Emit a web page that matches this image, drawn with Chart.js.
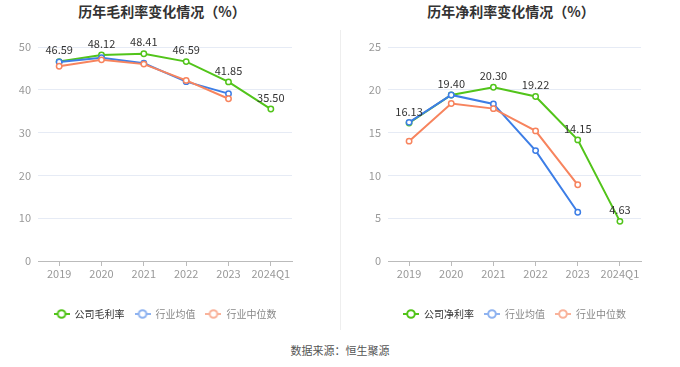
<!DOCTYPE html>
<html>
<head>
<meta charset="utf-8">
<script src="https://cdn.jsdelivr.net/npm/chart.js@4/dist/chart.umd.min.js"></script>
<style>
  body { margin: 0; width: 680px; height: 367px; background: #fff; position: relative; overflow: hidden;
         font-family: 'Noto Sans CJK SC', sans-serif; }
  .title { position: absolute; top: 1px; width: 340px; text-align: center; font-size: 14px; font-weight: bold; color: #333; }
  .box { position: absolute; top: 0; }
  #divider { position: absolute; left: 340px; top: 30px; width: 1px; height: 300px; background: #eee; }
  #source { position: absolute; top: 342px; width: 680px; text-align: center; font-size: 11px; color: #555; }
</style>
</head>
<body>
<div class="title" style="left:-8px">历年毛利率变化情况（%）</div>
<div class="title" style="left:341px">历年净利率变化情况（%）</div>
<div class="box" style="left:0"><canvas id="grossCanvas"></canvas></div>
<div class="box" style="left:360px"><canvas id="netCanvas"></canvas></div>
<div id="divider"></div>
<div id="source">数据来源：恒生聚源</div>
<script>
var years = ['2019', '2020', '2021', '2022', '2023', '2024Q1'];

var grossCompany = [46.59, 48.12, 48.41, 46.59, 41.85, 35.50];
var grossAvg = [46.5, 47.5, 46.2, 41.9, 39.1, null];
var grossMedian = [45.5, 47.0, 46.0, 42.2, 37.9, null];

var netCompany = [16.13, 19.40, 20.30, 19.22, 14.15, 4.63];
var netAvg = [16.2, 19.4, 18.35, 12.9, 5.7, null];
var netMedian = [14.0, 18.4, 17.8, 15.2, 8.9, null];

var green = '#52c41a';
var blue = '#3d7ee6';
var orange = '#f7845e';
var font = "'Noto Sans CJK SC', sans-serif";

// little "-o-" icon for the legend
function legendIcon(color) {
    var c = document.createElement('canvas');
    c.width = 16; c.height = 10;
    var ctx = c.getContext('2d');
    ctx.strokeStyle = color;
    ctx.lineWidth = 2;
    ctx.beginPath(); ctx.moveTo(0, 5); ctx.lineTo(16, 5); ctx.stroke();
    ctx.beginPath(); ctx.arc(8, 5, 3.8, 0, Math.PI * 2);
    ctx.fillStyle = '#fff'; ctx.fill(); ctx.stroke();
    return c;
}

var valueLabels = {
    id: 'valueLabels',
    afterDatasetsDraw: function(chart) {
        var ctx = chart.ctx;
        var meta = chart.getDatasetMeta(0);
        var data = chart.data.datasets[0].data;
        ctx.save();
        ctx.font = '11px ' + font;
        ctx.fillStyle = '#333';
        ctx.textAlign = 'center';
        ctx.textBaseline = 'bottom';
        meta.data.forEach(function(pt, i) {
            if (data[i] == null) return;
            ctx.fillText(data[i].toFixed(2), pt.x, pt.y - 6);
        });
        ctx.restore();
    }
};

// center the legend under the plot area instead of the whole canvas
var legendUnderPlot = {
    id: 'legendUnderPlot',
    afterLayout: function(chart) {
        chart.legend.left = chart.chartArea.left;
        chart.legend.right = chart.chartArea.right;
        chart.legend.width = chart.chartArea.right - chart.chartArea.left;
    }
};

function makeChart(id, name, company, avg, median, yMax, yStep, w, pad) {
    var cv = document.getElementById(id);
    cv.width = w;
    cv.height = 340;
    var iconColors = [green, '#8fb3f0', '#f9b39b'];
    var textColors = ['#333', '#888', '#888'];
    return new Chart(cv, {
        type: 'line',
        data: {
            labels: years,
            datasets: [
                { label: name, data: company, borderColor: green, order: 3 },
                { label: '行业均值', data: avg, borderColor: blue, order: 2 },
                { label: '行业中位数', data: median, borderColor: orange, order: 1 }
            ]
        },
        options: {
            responsive: false,
            animation: false,
            layout: { padding: { top: 47, left: 0, right: pad.right, bottom: 11 } },
            elements: {
                line: { borderWidth: 2, tension: 0, fill: false },
                point: { radius: 2.7, borderWidth: 1.5, backgroundColor: '#fff', hoverRadius: 3 }
            },
            scales: {
                x: {
                    offset: true,
                    afterFit: function(s) { s.height = 38; },
                    grid: { display: true, drawOnChartArea: false, offset: false, tickLength: 5, color: '#bbb' },
                    border: { color: '#bbb' },
                    ticks: { color: '#999', font: { size: 11, family: font }, padding: 1,
                             maxRotation: 0, minRotation: 0, autoSkip: false }
                },
                y: {
                    min: 0, max: yMax,
                    afterFit: function(s) { s.width = pad.yw; },
                    grid: { color: '#e6ebf5', drawTicks: false },
                    border: { display: false },
                    ticks: { stepSize: yStep, color: '#999', font: { size: 11, family: font }, padding: 7 }
                }
            },
            plugins: {
                title: { display: false },
                tooltip: { enabled: false },
                legend: {
                    position: 'bottom',
                    labels: {
                        usePointStyle: true,
                        pointStyleWidth: 16,
                        boxHeight: 10,
                        padding: 10,
                        font: { size: 10, family: font },
                        generateLabels: function(chart) {
                            return chart.data.datasets.map(function(ds, i) {
                                return {
                                    text: ds.label,
                                    pointStyle: legendIcon(iconColors[i]),
                                    fontColor: textColors[i],
                                    strokeStyle: 'transparent',
                                    lineWidth: 0,
                                    datasetIndex: i
                                };
                            });
                        }
                    }
                }
            }
        },
        plugins: [valueLabels, legendUnderPlot]
    });
}

makeChart('grossCanvas', '公司毛利率', grossCompany, grossAvg, grossMedian, 50, 10, 330,
    { right: 38, yw: 38 });
makeChart('netCanvas', '公司净利率', netCompany, netAvg, netMedian, 25, 5, 309,
    { right: 28, yw: 28 });
</script>
</body>
</html>
